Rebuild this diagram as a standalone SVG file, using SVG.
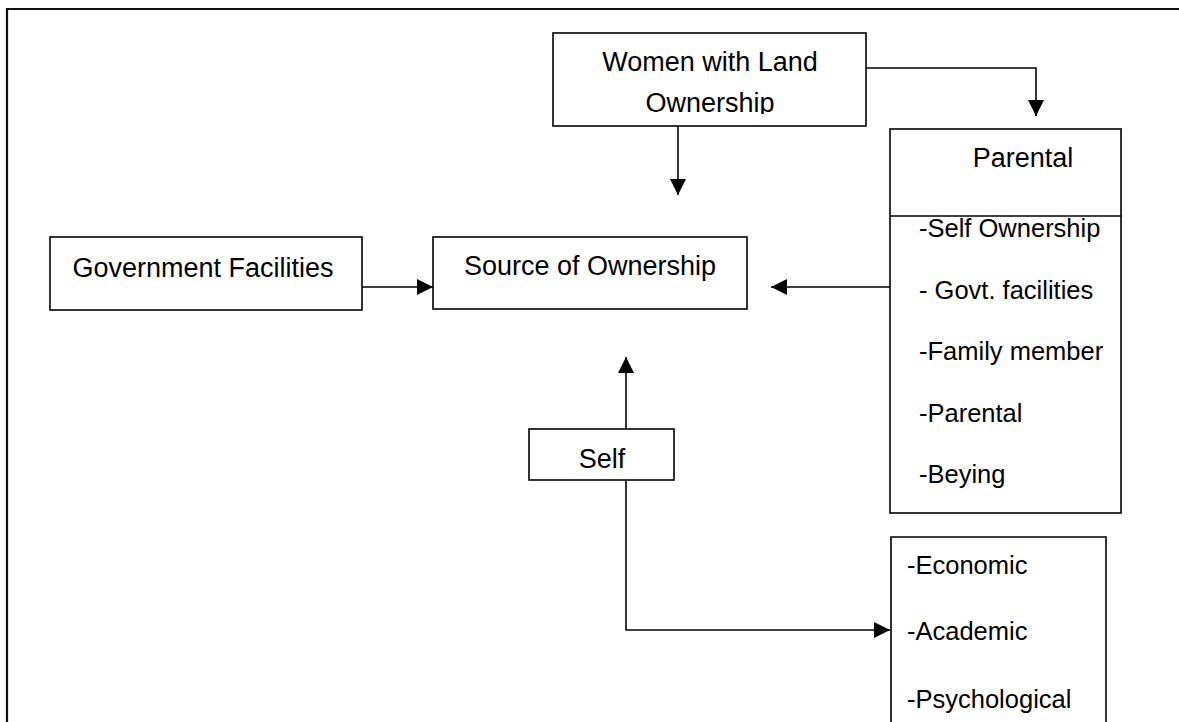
<svg xmlns="http://www.w3.org/2000/svg" width="1179" height="722" viewBox="0 0 1179 722">
<style>
.box{fill:#fff;stroke:#000;stroke-width:1.6}
.t{font-family:"Liberation Sans",Arial,sans-serif;font-size:27px;fill:#000}
.s{font-size:25.5px}
.c{text-anchor:middle}
.ln{fill:none;stroke:#000;stroke-width:1.6}
</style>
<defs>
<marker id="ah" markerUnits="userSpaceOnUse" markerWidth="16" markerHeight="16" viewBox="0 0 16 16" refX="16" refY="8" orient="auto">
<path d="M0,0 L16,8 L0,16 Z" fill="#000"/>
</marker>
<clipPath id="wclip"><rect x="553" y="33" width="313" height="81"/></clipPath>
</defs>
<rect width="1179" height="722" fill="#fff"/>
<path d="M7,722 V9 H1179" fill="none" stroke="#111" stroke-width="2.2"/>

<g id="connectors">
<path class="ln" d="M866,68 H1036 V116" marker-end="url(#ah)"/>
<path class="ln" d="M678,126 V195" marker-end="url(#ah)"/>
<path class="ln" d="M362,287 H433" marker-end="url(#ah)"/>
<path class="ln" d="M890,287 H771" marker-end="url(#ah)"/>
<path class="ln" d="M626,429 V357" marker-end="url(#ah)"/>
<path class="ln" d="M626,481 V630 H890" marker-end="url(#ah)"/>
</g>

<g id="women">
<rect class="box" x="553" y="33" width="313" height="93"/>
<g clip-path="url(#wclip)">
<text class="t c" x="710" y="71">Women with Land</text>
<text class="t c" x="710" y="112">Ownership</text>
</g>
</g>

<g id="parental">
<rect class="box" x="890" y="129" width="231" height="384"/>
<line class="ln" x1="890" y1="216" x2="1121" y2="216"/>
<text class="t c" x="1023" y="167">Parental</text>
<text class="t s" x="919" y="237">-Self Ownership</text>
<text class="t s" x="919" y="298.5">- Govt. facilities</text>
<text class="t s" x="919" y="360">-Family member</text>
<text class="t s" x="919" y="421.5">-Parental</text>
<text class="t s" x="919" y="483">-Beying</text>
</g>

<g id="government">
<rect class="box" x="50" y="237" width="312" height="73"/>
<text class="t c" x="203" y="277">Government Facilities</text>
</g>

<g id="source">
<rect class="box" x="433" y="237" width="314" height="72"/>
<text class="t c" x="590" y="275">Source of Ownership</text>
</g>

<g id="self">
<rect class="box" x="529" y="429" width="145" height="51"/>
<text class="t c" x="602" y="468">Self</text>
</g>

<g id="factors">
<path class="box" d="M891,730 V537 H1106 V730"/>
<text class="t s" x="907" y="574">-Economic</text>
<text class="t s" x="907" y="640">-Academic</text>
<text class="t s" x="907" y="708">-Psychological</text>
</g>
</svg>
